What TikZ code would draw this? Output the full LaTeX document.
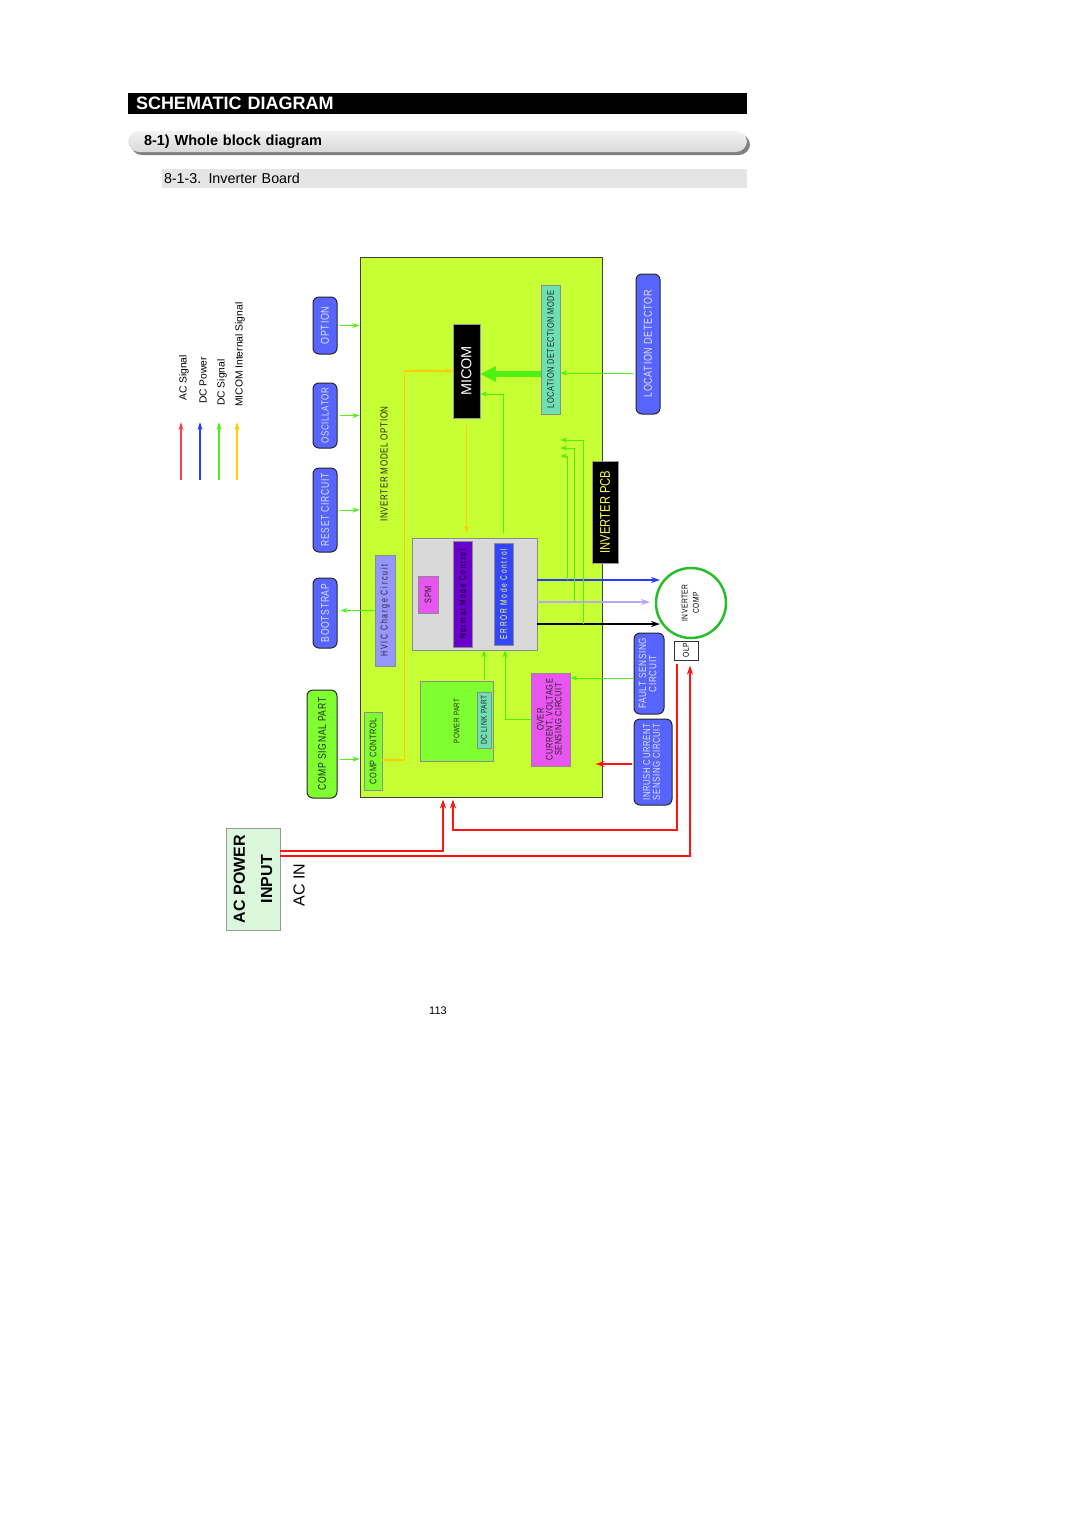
\documentclass[tikz,border=0pt]{standalone}
\usepackage{fontspec}
\usepackage{graphicx}
\setmainfont{Liberation Sans}
\newfontfamily\nar[FakeStretch=0.78,LetterSpace=6]{Liberation Sans}
\newfontfamily\narw[FakeStretch=0.7,LetterSpace=18]{Liberation Sans}
\newfontfamily\narr[FakeStretch=0.8]{Liberation Sans}
\usetikzlibrary{arrows.meta,calc}
\newcommand{\rtx}[2][1]{\rotatebox{90}{\def\arraystretch{#1}\begin{tabular}{@{}c@{}}#2\end{tabular}}}
\newcommand{\rt}[1]{\rotatebox{90}{#1}}
\definecolor{mgreen}{RGB}{198,255,52}
\definecolor{bluebx}{RGB}{88,100,255}
\definecolor{bluetx}{RGB}{225,228,255}
\definecolor{lgreen}{RGB}{128,255,48}
\definecolor{lav}{RGB}{150,150,255}
\definecolor{ctealc}{RGB}{110,224,180}
\definecolor{cmag}{RGB}{232,85,240}
\definecolor{cpurp}{RGB}{106,0,204}
\definecolor{cerr}{RGB}{50,70,255}
\definecolor{cgray}{RGB}{217,217,217}
\definecolor{agreen}{RGB}{80,240,20}
\definecolor{ayellow}{RGB}{255,205,0}
\definecolor{ared}{RGB}{255,20,20}
\definecolor{ablue}{RGB}{40,60,255}
\definecolor{alav}{RGB}{185,165,255}
\definecolor{cgreenc}{RGB}{40,190,40}
\definecolor{cyel}{RGB}{255,255,80}
\definecolor{acbg}{RGB}{220,248,220}
\tikzset{
  wh/.style 2 args={minimum width=#1pt,minimum height=#2pt},
  bbox/.style={draw=black!85, line width=1pt, rounded corners=6pt, fill=bluebx, text=bluetx, inner sep=0pt, font=\nar\fontsize{11.5}{12}\selectfont},
  ibox/.style={draw=black!45, line width=0.8pt, inner sep=0pt, text=black!85, font=\nar\fontsize{10}{11}\selectfont},
  blk/.style={draw=black!40, fill=black, inner sep=0pt},
  ga/.style={draw=agreen, line width=1pt, -{Stealth[length=7pt,width=5pt]}},
  gthin/.style={draw=agreen, line width=0.8pt, -{Stealth[length=7pt,width=5pt]}},
  ya/.style={draw=ayellow, line width=1.2pt, -{Stealth[length=7pt,width=5pt]}},
  ra/.style={draw=ared, line width=2pt, -{Stealth[length=9pt,width=6pt]}},
  outa/.style={line width=2pt, -{Stealth[length=9pt,width=6pt]}},
  lega/.style={line width=1.3pt, -{Stealth[length=8pt,width=5pt]}},
  legt/.style={anchor=south, inner sep=0pt, font=\fontsize{10.3}{11}\selectfont},
}
\begin{document}
\begin{tikzpicture}[x=1pt,y=-1pt]
\useasboundingbox (0,0) rectangle (1080,1527);
\fill[white] (0,0) rectangle (1080,1527);

% header
\node[fill=black, text=white, minimum height=21pt, text width=603pt, inner xsep=8pt, inner ysep=0pt, align=left, font=\bfseries\fontsize{18}{20}\selectfont] (hdr) at (437.5,103.5) {SCHEMATIC DIAGRAM};
\fill[black!50, rounded corners=11pt] (131,134) rectangle (750,155);
\node[top color=white!95!black, bottom color=black!15, rounded corners=11pt, minimum height=21pt, text width=587pt, inner xsep=16pt, inner ysep=0pt, align=left, font=\bfseries\fontsize{14.5}{16}\selectfont] (sec) at (437.5,141.5) {8-1) Whole block diagram};
\node[fill=black!10, minimum height=19pt, text width=581pt, inner xsep=2pt, inner ysep=0pt, align=left, font=\fontsize{14.3}{16}\selectfont] (sub) at (454.5,178.5) {8-1-3. Inverter Board};

% legend
\coordinate (l1s) at (181,480); \coordinate (l1e) at (181,422);
\coordinate (l2s) at (200,480); \coordinate (l2e) at (200,422);
\coordinate (l3s) at (219,480); \coordinate (l3e) at (219,422);
\coordinate (l4s) at (237,480); \coordinate (l4e) at (237,422);
\draw[lega, draw={rgb,255:red,255;green,60;blue,80}] (l1s) -- (l1e);
\draw[lega, draw=ablue] (l2s) -- (l2e);
\draw[lega, draw=agreen] (l3s) -- (l3e);
\draw[lega, draw=ayellow] (l4s) -- (l4e);
\node[legt] (lg1) at (184,401) {\rt{AC Signal}};
\node[legt] (lg2) at (203,404) {\rt{DC Power}};
\node[legt] (lg3) at (222,406) {\rt{DC Signal}};
\node[legt] (lg4) at (240,407) {\rt{MICOM Internal Signal}};

% main board
\node[draw=black!75, line width=1pt, fill=mgreen, wh={242}{540}, inner sep=0pt] (main) at (481,527) {};

% left blocks
\node[bbox, wh={24}{57}] (opt) at (325,325.5) {\rt{OPTION}};
\node[bbox, wh={24}{65}, font=\nar\fontsize{10.3}{11}\selectfont] (osc) at (325,415.5) {\rt{OSCILLATOR}};
\node[bbox, wh={24}{84}, font=\nar\fontsize{11}{12}\selectfont] (rst) at (325,510) {\rt{RESET CIRCUIT}};
\node[bbox, wh={24}{70}, font=\nar\fontsize{11}{12}\selectfont] (boot) at (325,613) {\rt{BOOTSTRAP}};
\node[bbox, fill=lgreen, text=black!85, wh={30}{108}, font=\nar\fontsize{11}{12}\selectfont] (csp) at (322,744) {\rt{COMP SIGNAL PART}};

% right blocks
\node[bbox, wh={24}{140}] (locdet) at (648,344) {\rt{LOCATION DETECTOR}};
\node[bbox, wh={30}{81}, font=\nar\fontsize{10.5}{11}\selectfont] (fault) at (649,673.5) {\rtx[0.85]{FAULT SENSING\\CIRCUIT}};
\node[bbox, wh={38}{86}, font=\nar\fontsize{10}{11}\selectfont] (inrush) at (653,762) {\rtx[0.85]{INRUSH CURRENT\\SENSING CIRCUIT}};
\node[blk, text=cyel, wh={26}{102}, font=\narr\fontsize{14}{15}\selectfont] (pcb) at (605,512) {\rt{INVERTER PCB}};
\node[circle, draw=cgreenc, line width=2.5pt, fill=white, minimum size=70pt, inner sep=0pt, font=\nar\fontsize{8.5}{9}\selectfont] (comp) at (691,603) {\rtx[1.25]{INVERTER\\COMP}};
\node[draw=black!80, line width=1pt, fill=white, wh={24}{19}, inner sep=0pt, font=\nar\fontsize{8.5}{9}\selectfont] (olp) at (686,650.5) {\rt{OLP}};

% inside board
\node[inner sep=0pt, text=black!85, font=\nar\fontsize{10.3}{12}\selectfont] (mopt) at (384,464) {\rt{INVERTER MODEL OPTION}};
\node[ibox, fill=lav, wh={20}{111}] (hvic) at (385,610.5) {\rt{\narw HVIC Charge Circuit}};
\node[ibox, fill=lgreen, wh={18}{78}, font=\nar\fontsize{9.5}{10}\selectfont] (cc) at (373,751) {\rt{COMP CONTROL}};
\node[blk, text=white, wh={27}{94}, font=\fontsize{14.5}{16}\selectfont] (micom) at (466.5,371) {\rt{MICOM}};
\node[ibox, fill=ctealc, wh={19}{129}, font=\nar\fontsize{9.5}{10}\selectfont] (ldm) at (550.5,349.5) {\rt{LOCATION DETECTION MODE}};
\node[ibox, fill=cgray, wh={125}{112}] (gbox) at (474.5,594) {};
\node[ibox, fill=cmag, wh={20}{37}, font=\nar\fontsize{9.5}{10}\selectfont] (spm) at (428,594.5) {\rt{SPM}};
\node[ibox, fill=cpurp, text=black, wh={19}{106}, font=\narw\fontsize{9.4}{10}\selectfont] (nmc) at (462.5,594) {\rt{Normal Mode Control}};
\node[ibox, fill=cerr, text=cyel, wh={19}{102}, font=\narw\fontsize{9.4}{10}\selectfont] (emc) at (503.5,594) {\rt{ERROR Mode Control}};
\node[ibox, fill=lgreen, wh={73}{80}, font=\nar\fontsize{8}{9}\selectfont] (pwr) at (456.5,721) {\rt{POWER PART}};
\node[ibox, fill=ctealc, wh={14}{56}, font=\nar\fontsize{8.5}{9}\selectfont] (dcl) at (484,720) {\rt{DC LINK PART}};
\node[ibox, fill=cmag, wh={39}{93}, font=\nar\fontsize{9.5}{10}\selectfont] (over) at (550.5,719.5) {\rtx[0.8]{OVER\\CURRENT, VOLTAGE\\SENSING CIRCUIT}};

% AC input
\node[draw=black!40, fill=acbg, wh={50}{102}, inner sep=0pt, font=\bfseries\fontsize{16}{17}\selectfont] (acin) at (253,879) {\rtx[1.6]{AC POWER\\INPUT}};
\node[inner sep=0pt, font=\fontsize{16}{17}\selectfont] (acintxt) at (299,885) {\rt{AC IN}};

% connectors left
\draw[ga, shorten <=2pt] (opt.east) -- (opt.east -| main.west);
\draw[ga, shorten <=2pt] (osc.east) -- (osc.east -| main.west);
\draw[ga, shorten <=2pt] (rst.east) -- (rst.east -| main.west);
\draw[ga, shorten >=3pt] (hvic.west) -- (hvic.west -| boot.east);
\draw[ga, shorten <=2pt] ($(csp.east)+(0,15)$) -- ($(csp.east -| main.west)+(0,15)$);

% micom connections
\draw[ya] ($(cc.east)+(0,9)$) -- ++(22,0) |- (micom.west);
\draw[ya, shorten <=7pt, shorten >=5pt] (micom.south) -- (micom.south |- gbox.north);
\draw[agreen, line width=6pt, -{Triangle[length=16pt,width=15pt]}] ($(ldm.west)+(0,24.5)$) -- ($(ldm.west -| micom.east)+(0,24.5)$);
\draw[ga, shorten <=3pt] ($(locdet.west)+(0,29)$) -- ($(locdet.west -| ldm.east)+(0,29)$);
\draw[ga, shorten <=5pt] (emc.center |- gbox.north) |- ($(micom.east)+(0,23)$);

% outputs to compressor
\draw[outa, ablue] ($(gbox.east)+(0,-14)$) -- ($(comp.center)+(-31,-23)$);
\draw[outa, alav] ($(gbox.east)+(0,8)$) -- ($(comp.center)+(-41,-1)$);
\draw[outa, black] ($(gbox.east)+(0,30)$) -- ($(comp.center)+(-31,21)$);

% feedback lines
\draw[gthin] ($(gbox.east)+(30,-14)$) |- ($(ldm.east)+(0,106.5)$);
\draw[gthin] ($(gbox.east)+(37,8)$) |- ($(ldm.east)+(0,98.5)$);
\draw[gthin] ($(gbox.east)+(46,30)$) |- ($(ldm.east)+(0,90.5)$);

% power and sensing
\draw[ga, shorten <=1pt] (dcl.center |- pwr.north) -- (dcl.center |- gbox.south);
\draw[ga] (over.west) -| ($(emc.center |- gbox.south)+(1.5,0)$);
\draw[gthin, shorten <=1pt] ($(fault.west)+(0,4.5)$) -- ($(fault.west -| over.east)+(0,4.5)$);
\draw[ra, line width=1.2pt, shorten <=2pt] ($(inrush.west)+(0,2)$) -- ($(inrush.west -| main.east)+(-7,2)$);

% AC lines
\draw[ra] ($(acin.north east)+(0,23)$) -| ($(main.south)+(-38,2)$);
\draw[ra] ($(olp.south)+(-9,3)$) -- ++(0,166) -| ($(main.south)+(-28,2)$);
\draw[ra] ($(acin.north east)+(0,28)$) -| ($(olp.south)+(4,5)$);

% page number
\node[font=\fontsize{11}{12}\selectfont] (pg) at (438,1011) {113};
\end{tikzpicture}
\end{document}
